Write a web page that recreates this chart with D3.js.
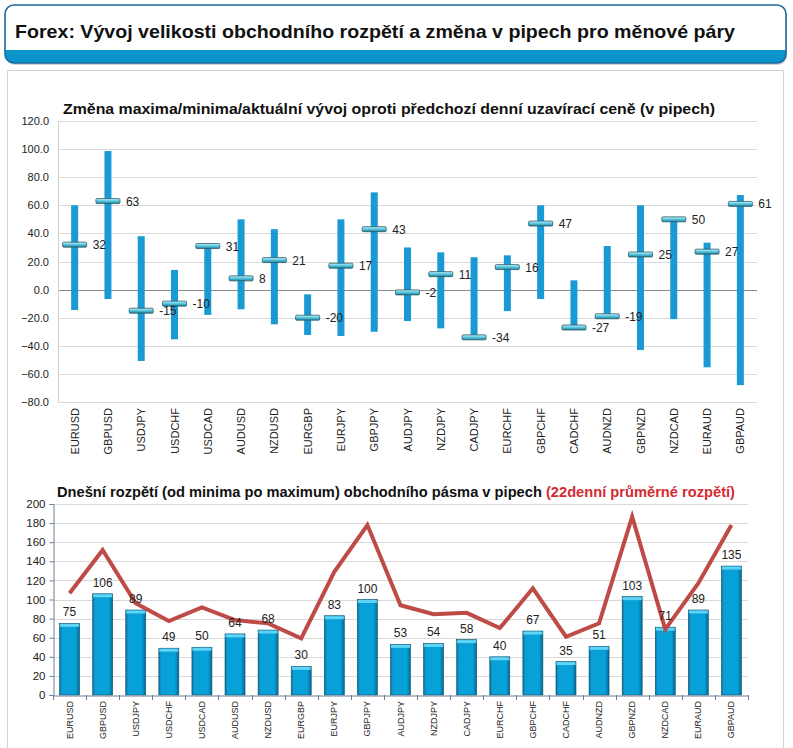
<!DOCTYPE html>
<html>
<head>
<meta charset="utf-8">
<script src="https://cdn.jsdelivr.net/npm/d3@7"></script>
<style>
  body { margin: 0; background: #fff; }
  svg { display: block; font-family: "Liberation Sans", Arial, sans-serif; }
</style>
</head>
<body>
<div id="chart"></div>
<script>
// currency pairs
var pairs = ["EURUSD", "GBPUSD", "USDJPY", "USDCHF", "USDCAD", "AUDUSD", "NZDUSD", "EURGBP", "EURJPY", "GBPJPY",
  "AUDJPY", "NZDJPY", "CADJPY", "EURCHF", "GBPCHF", "CADCHF", "AUDNZD", "GBPNZD", "NZDCAD", "EURAUD", "GBPAUD"];

// top chart: max / min / current vs previous close (pips)
var highs = [60, 98.6, 38, 14, 31, 50, 43, -3.4, 50, 69.2, 30, 26.5, 23, 24.4, 60, 6.6, 31, 60, 50, 33.4, 67.3];
var lows = [-14.5, -6.7, -50.8, -35.4, -18, -14, -24.7, -32.3, -33, -30, -22.4, -27.6, -34, -15.3, -6.7, -27, -19, -43, -21, -55.3, -68];
var current = [32, 63, -15, -10, 31, 8, 21, -20, 17, 43, -2, 11, -34, 16, 47, -27, -19, 25, 50, 27, 61];
var topTicks = [120, 100, 80, 60, 40, 20, 0, -20, -40, -60, -80];

// bottom chart: today's range and 22-day average range (pips)
var todayRange = [75, 106, 89, 49, 50, 64, 68, 30, 83, 100, 53, 54, 58, 40, 67, 35, 51, 103, 71, 89, 135];
var avg22 = [106.5, 151.8, 96, 77.5, 91.8, 78.5, 75, 59.3, 129, 178, 94, 84.5, 86, 70, 111.7, 61, 75, 186.7, 68.8, 117, 178];
var bottomTicks = [0, 20, 40, 60, 80, 100, 120, 140, 160, 180, 200];

var W = 793, H = 748;

var svg = d3.select("#chart").append("svg")
  .attr("width", W)
  .attr("height", H);

var defs = svg.append("defs");

// header gradient / clip
defs.append("clipPath").attr("id", "hdrClip")
  .append("rect")
  .attr("x", 5).attr("y", 5).attr("width", 781).attr("height", 58).attr("rx", 9);

var mg = defs.append("linearGradient").attr("id", "markerGrad")
  .attr("x1", 0).attr("y1", 0).attr("x2", 0).attr("y2", 1);
mg.append("stop").attr("offset", "0%").attr("stop-color", "#c9f3fc");
mg.append("stop").attr("offset", "50%").attr("stop-color", "#55c6df");
mg.append("stop").attr("offset", "100%").attr("stop-color", "#1f7f97");

var bg = defs.append("linearGradient").attr("id", "barGrad")
  .attr("x1", 0).attr("y1", 0).attr("x2", 1).attr("y2", 0);
bg.append("stop").attr("offset", "0%").attr("stop-color", "#0a6f9a");
bg.append("stop").attr("offset", "12%").attr("stop-color", "#0a9fd6");
bg.append("stop").attr("offset", "80%").attr("stop-color", "#06a2da");
bg.append("stop").attr("offset", "100%").attr("stop-color", "#066a92");

// ---- header box
svg.append("rect")
  .attr("x", 6).attr("y", 7).attr("width", 781).attr("height", 58).attr("rx", 9)
  .attr("fill", "#c9d3da");
svg.append("rect")
  .attr("x", 5).attr("y", 5).attr("width", 781).attr("height", 58).attr("rx", 9)
  .attr("fill", "#fff");
svg.append("rect")
  .attr("clip-path", "url(#hdrClip)")
  .attr("x", 5).attr("y", 50).attr("width", 781).attr("height", 13)
  .attr("fill", "#0a94cc");
svg.append("rect")
  .attr("x", 5).attr("y", 5).attr("width", 781).attr("height", 58).attr("rx", 9)
  .attr("fill", "none")
  .attr("stroke", "#1d6a9c")
  .attr("stroke-width", 1.6);

svg.append("text")
  .attr("x", 15).attr("y", 38)
  .attr("font-size", 19)
  .attr("font-weight", "bold")
  .attr("fill", "#111")
  .attr("textLength", 720)
  .attr("lengthAdjust", "spacingAndGlyphs")
  .text("Forex: Vývoj velikosti obchodního rozpětí a změna v pipech pro měnové páry");

// ---- panel
svg.append("rect")
  .attr("x", 7.5).attr("y", 70.5).attr("width", 776).attr("height", 700)
  .attr("fill", "#fff")
  .attr("stroke", "#d4d4d4");

// ================= TOP CHART =================
var t = { left: 58, right: 757, top: 121, bottom: 402 };

var xTop = d3.scaleBand().domain(pairs).range([t.left, t.right]);
var yTop = d3.scaleLinear().domain([-80, 120]).range([t.bottom, t.top]);

var topG = svg.append("g");

topG.append("text")
  .attr("x", 63).attr("y", 114)
  .attr("font-size", 15)
  .attr("font-weight", "bold")
  .attr("fill", "#111")
  .attr("textLength", 652)
  .attr("lengthAdjust", "spacingAndGlyphs")
  .text("Změna maxima/minima/aktuální vývoj oproti předchozí denní uzavírací ceně (v pipech)");

// gridlines
topG.selectAll(".grid")
  .data(topTicks)
  .enter()
  .append("line")
  .attr("x1", t.left).attr("x2", t.right)
  .attr("y1", d => Math.round(yTop(d)) + 0.5)
  .attr("y2", d => Math.round(yTop(d)) + 0.5)
  .attr("stroke", d => d === 0 ? "#8a8a8a" : "#d9d9d9")
  .attr("stroke-width", 1);

topG.append("line")
  .attr("x1", t.left + 0.5).attr("x2", t.left + 0.5)
  .attr("y1", t.top).attr("y2", t.bottom)
  .attr("stroke", "#d0d0d0");

var leftAxisTop = d3.axisLeft(yTop).tickValues(topTicks).tickFormat(d3.format(".1f")).tickSize(0).tickPadding(9);
topG.append("g")
  .attr("transform", `translate(${t.left}, 0)`)
  .call(leftAxisTop)
  .call(g => g.select(".domain").remove())
  .selectAll("text")
  .attr("font-size", 11)
  .attr("font-family", "Liberation Sans, Arial, sans-serif")
  .attr("fill", "#222");

// range bars
topG.selectAll(".range")
  .data(pairs)
  .enter()
  .append("rect")
  .attr("x", d => xTop(d) + xTop.bandwidth() / 2 - 3.5)
  .attr("width", 7)
  .attr("y", (d, i) => yTop(highs[i]))
  .attr("height", (d, i) => yTop(lows[i]) - yTop(highs[i]))
  .attr("fill", "#1a9ad4");

// current markers
topG.selectAll(".marker")
  .data(pairs)
  .enter()
  .append("rect")
  .attr("x", d => xTop(d) + xTop.bandwidth() / 2 - 12)
  .attr("width", 24)
  .attr("y", (d, i) => yTop(current[i]) - 2.5)
  .attr("height", 5)
  .attr("rx", 1)
  .attr("fill", "url(#markerGrad)")
  .attr("stroke", "#2d5a66")
  .attr("stroke-width", 0.8);

topG.selectAll(".curLabel")
  .data(pairs)
  .enter()
  .append("text")
  .attr("x", d => xTop(d) + xTop.bandwidth() / 2 + 18)
  .attr("y", (d, i) => yTop(current[i]) + 4.5)
  .attr("font-size", 12)
  .attr("fill", "#222")
  .text((d, i) => current[i]);

// category labels
topG.selectAll(".catTop")
  .data(pairs)
  .enter()
  .append("text")
  .attr("transform", d => `translate(${xTop(d) + xTop.bandwidth() / 2 + 4}, 408)rotate(-90)`)
  .attr("text-anchor", "end")
  .attr("font-size", 11)
  .attr("fill", "#222")
  .text(d => d);

// ================= BOTTOM CHART =================
var b = { left: 53, right: 748, top: 504, bottom: 695 };

var xBot = d3.scaleBand().domain(pairs).range([b.left, b.right]);
var yBot = d3.scaleLinear().domain([0, 200]).range([b.bottom, b.top]);

var botG = svg.append("g");

var botTitle = botG.append("text")
  .attr("x", 57).attr("y", 497)
  .attr("font-size", 15)
  .attr("font-weight", "bold")
  .attr("textLength", 678)
  .attr("lengthAdjust", "spacingAndGlyphs");
botTitle.append("tspan")
  .attr("fill", "#111")
  .text("Dnešní rozpětí (od minima po maximum) obchodního pásma v pipech ");
botTitle.append("tspan")
  .attr("fill", "#d42a32")
  .text("(22denní průměrné rozpětí)");

botG.selectAll(".grid")
  .data(bottomTicks.slice(1))
  .enter()
  .append("line")
  .attr("x1", b.left).attr("x2", b.right)
  .attr("y1", d => Math.round(yBot(d)) + 0.5)
  .attr("y2", d => Math.round(yBot(d)) + 0.5)
  .attr("stroke", "#d9d9d9");

var leftAxisBot = d3.axisLeft(yBot).tickValues(bottomTicks).tickSize(4).tickPadding(4);
var yAxisG = botG.append("g")
  .attr("transform", `translate(${b.left + 0.5}, 0)`)
  .call(leftAxisBot);
yAxisG.select(".domain").attr("stroke", "#6b7f95");
yAxisG.selectAll(".tick line").attr("stroke", "#6b7f95");
yAxisG.selectAll("text")
  .attr("font-size", 11.5)
  .attr("font-family", "Liberation Sans, Arial, sans-serif")
  .attr("fill", "#222");

// bars
var barW = 20;
botG.selectAll(".bar")
  .data(pairs)
  .enter()
  .append("rect")
  .attr("x", d => xBot(d) + xBot.bandwidth() / 2 - barW / 2)
  .attr("width", barW)
  .attr("y", (d, i) => yBot(todayRange[i]))
  .attr("height", (d, i) => yBot(0) - yBot(todayRange[i]))
  .attr("fill", "url(#barGrad)")
  .attr("stroke", "#0f4d6a")
  .attr("stroke-width", 0.6);

botG.selectAll(".cap")
  .data(pairs)
  .enter()
  .append("rect")
  .attr("x", d => xBot(d) + xBot.bandwidth() / 2 - barW / 2 + 0.5)
  .attr("width", barW - 1)
  .attr("y", (d, i) => yBot(todayRange[i]) + 0.5)
  .attr("height", 3)
  .attr("fill", "#5fd4f4");

// x axis
var bottomAxis = d3.axisBottom(xBot).tickSize(0).tickFormat("");
var xAxisG = botG.append("g")
  .attr("transform", `translate(0, ${b.bottom + 0.5})`)
  .call(bottomAxis);
xAxisG.select(".domain").attr("stroke", "#6b7f95");
botG.selectAll(".xtick")
  .data(d3.range(pairs.length + 1))
  .enter()
  .append("line")
  .attr("x1", i => Math.round(b.left + i * xBot.step()) + 0.5)
  .attr("x2", i => Math.round(b.left + i * xBot.step()) + 0.5)
  .attr("y1", b.bottom)
  .attr("y2", b.bottom + 5)
  .attr("stroke", "#6b7f95");

// 22-day average line
var line = d3.line()
  .x((d, i) => xBot(pairs[i]) + xBot.bandwidth() / 2)
  .y(d => yBot(d));

botG.append("path")
  .datum(avg22)
  .attr("d", line)
  .attr("fill", "none")
  .attr("stroke", "#be4b48")
  .attr("stroke-width", 4)
  .attr("stroke-linejoin", "miter");

// value labels
botG.selectAll(".valLabel")
  .data(pairs)
  .enter()
  .append("text")
  .attr("x", d => xBot(d) + xBot.bandwidth() / 2)
  .attr("y", (d, i) => yBot(todayRange[i]) - 7)
  .attr("text-anchor", "middle")
  .attr("font-size", 12)
  .attr("fill", "#222")
  .text((d, i) => todayRange[i]);

// category labels
botG.selectAll(".catBot")
  .data(pairs)
  .enter()
  .append("text")
  .attr("transform", d => `translate(${xBot(d) + xBot.bandwidth() / 2 + 3}, 701)rotate(-90)`)
  .attr("text-anchor", "end")
  .attr("font-size", 9)
  .attr("fill", "#222")
  .text(d => d);
</script>
</body>
</html>
